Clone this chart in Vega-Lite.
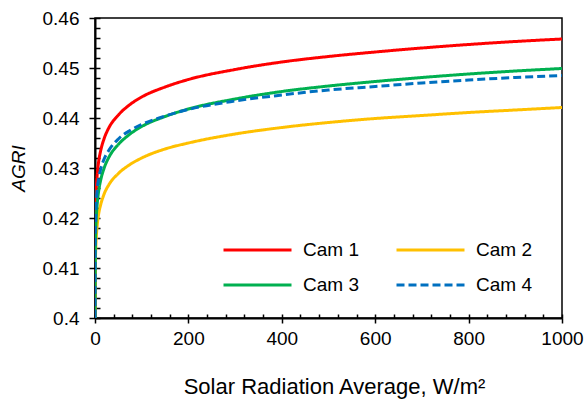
{
  "$schema": "https://vega.github.io/schema/vega-lite/v6.json",
  "width": 467,
  "height": 300,
  "autosize": "none",
  "padding": {"left": 95, "top": 18, "right": 26, "bottom": 84},
  "background": "white",
  "config": {
    "font": "Liberation Sans",
    "view": {"stroke": "black", "strokeWidth": 1.5},
    "axis": {"grid": false, "domainColor": "black", "domainWidth": 2, "tickColor": "black", "tickWidth": 1.5, "labelColor": "black", "labelFontSize": 19, "labelFont": "Liberation Sans", "titleFont": "Liberation Sans", "titleFontSize": 21, "titleFontWeight": "normal", "titleColor": "black"}
  },
  "datasets": {
    "curves": [
      {"x": 0.015, "y": 0.4, "cam": "Cam 1"},
      {"x": 0.1, "y": 0.4092, "cam": "Cam 1"},
      {"x": 0.5, "y": 0.4173, "cam": "Cam 1"},
      {"x": 1, "y": 0.4209, "cam": "Cam 1"},
      {"x": 2, "y": 0.4244, "cam": "Cam 1"},
      {"x": 3, "y": 0.4264, "cam": "Cam 1"},
      {"x": 5, "y": 0.429, "cam": "Cam 1"},
      {"x": 8, "y": 0.4314, "cam": "Cam 1"},
      {"x": 12, "y": 0.4334, "cam": "Cam 1"},
      {"x": 20, "y": 0.436, "cam": "Cam 1"},
      {"x": 30, "y": 0.4381, "cam": "Cam 1"},
      {"x": 50, "y": 0.4406, "cam": "Cam 1"},
      {"x": 75, "y": 0.4427, "cam": "Cam 1"},
      {"x": 100, "y": 0.4442, "cam": "Cam 1"},
      {"x": 150, "y": 0.4462, "cam": "Cam 1"},
      {"x": 200, "y": 0.4477, "cam": "Cam 1"},
      {"x": 300, "y": 0.4497, "cam": "Cam 1"},
      {"x": 400, "y": 0.4512, "cam": "Cam 1"},
      {"x": 500, "y": 0.4523, "cam": "Cam 1"},
      {"x": 600, "y": 0.4532, "cam": "Cam 1"},
      {"x": 700, "y": 0.454, "cam": "Cam 1"},
      {"x": 800, "y": 0.4547, "cam": "Cam 1"},
      {"x": 900, "y": 0.4553, "cam": "Cam 1"},
      {"x": 1000, "y": 0.4558, "cam": "Cam 1"},

      {"x": 0.07, "y": 0.4, "cam": "Cam 2"},
      {"x": 0.1, "y": 0.4016, "cam": "Cam 2"},
      {"x": 0.5, "y": 0.4087, "cam": "Cam 2"},
      {"x": 1, "y": 0.4117, "cam": "Cam 2"},
      {"x": 2, "y": 0.4148, "cam": "Cam 2"},
      {"x": 3, "y": 0.4165, "cam": "Cam 2"},
      {"x": 5, "y": 0.4188, "cam": "Cam 2"},
      {"x": 8, "y": 0.4209, "cam": "Cam 2"},
      {"x": 12, "y": 0.4226, "cam": "Cam 2"},
      {"x": 20, "y": 0.4249, "cam": "Cam 2"},
      {"x": 30, "y": 0.4267, "cam": "Cam 2"},
      {"x": 50, "y": 0.4289, "cam": "Cam 2"},
      {"x": 75, "y": 0.4307, "cam": "Cam 2"},
      {"x": 100, "y": 0.432, "cam": "Cam 2"},
      {"x": 150, "y": 0.4338, "cam": "Cam 2"},
      {"x": 200, "y": 0.435, "cam": "Cam 2"},
      {"x": 300, "y": 0.4368, "cam": "Cam 2"},
      {"x": 400, "y": 0.4381, "cam": "Cam 2"},
      {"x": 500, "y": 0.4391, "cam": "Cam 2"},
      {"x": 600, "y": 0.4399, "cam": "Cam 2"},
      {"x": 700, "y": 0.4405, "cam": "Cam 2"},
      {"x": 800, "y": 0.4411, "cam": "Cam 2"},
      {"x": 900, "y": 0.4416, "cam": "Cam 2"},
      {"x": 1000, "y": 0.4421, "cam": "Cam 2"},

      {"x": 0.05, "y": 0.4, "cam": "Cam 3"},
      {"x": 0.1, "y": 0.4033, "cam": "Cam 3"},
      {"x": 0.5, "y": 0.4114, "cam": "Cam 3"},
      {"x": 1, "y": 0.415, "cam": "Cam 3"},
      {"x": 2, "y": 0.4185, "cam": "Cam 3"},
      {"x": 3, "y": 0.4205, "cam": "Cam 3"},
      {"x": 5, "y": 0.4231, "cam": "Cam 3"},
      {"x": 8, "y": 0.4255, "cam": "Cam 3"},
      {"x": 12, "y": 0.4275, "cam": "Cam 3"},
      {"x": 20, "y": 0.4301, "cam": "Cam 3"},
      {"x": 30, "y": 0.4322, "cam": "Cam 3"},
      {"x": 50, "y": 0.4347, "cam": "Cam 3"},
      {"x": 75, "y": 0.4368, "cam": "Cam 3"},
      {"x": 100, "y": 0.4383, "cam": "Cam 3"},
      {"x": 150, "y": 0.4403, "cam": "Cam 3"},
      {"x": 200, "y": 0.4418, "cam": "Cam 3"},
      {"x": 300, "y": 0.4438, "cam": "Cam 3"},
      {"x": 400, "y": 0.4453, "cam": "Cam 3"},
      {"x": 500, "y": 0.4464, "cam": "Cam 3"},
      {"x": 600, "y": 0.4473, "cam": "Cam 3"},
      {"x": 700, "y": 0.4481, "cam": "Cam 3"},
      {"x": 800, "y": 0.4488, "cam": "Cam 3"},
      {"x": 900, "y": 0.4494, "cam": "Cam 3"},
      {"x": 1000, "y": 0.4499, "cam": "Cam 3"},

      {"x": 0.01, "y": 0.4, "cam": "Cam 4"},
      {"x": 0.02, "y": 0.4025, "cam": "Cam 4"},
      {"x": 0.1, "y": 0.4094, "cam": "Cam 4"},
      {"x": 0.5, "y": 0.4162, "cam": "Cam 4"},
      {"x": 1, "y": 0.4191, "cam": "Cam 4"},
      {"x": 2, "y": 0.4221, "cam": "Cam 4"},
      {"x": 3, "y": 0.4238, "cam": "Cam 4"},
      {"x": 5, "y": 0.426, "cam": "Cam 4"},
      {"x": 8, "y": 0.428, "cam": "Cam 4"},
      {"x": 12, "y": 0.4297, "cam": "Cam 4"},
      {"x": 20, "y": 0.4319, "cam": "Cam 4"},
      {"x": 30, "y": 0.4336, "cam": "Cam 4"},
      {"x": 50, "y": 0.4358, "cam": "Cam 4"},
      {"x": 75, "y": 0.4375, "cam": "Cam 4"},
      {"x": 100, "y": 0.4387, "cam": "Cam 4"},
      {"x": 150, "y": 0.4404, "cam": "Cam 4"},
      {"x": 200, "y": 0.4417, "cam": "Cam 4"},
      {"x": 300, "y": 0.4434, "cam": "Cam 4"},
      {"x": 400, "y": 0.4446, "cam": "Cam 4"},
      {"x": 500, "y": 0.4456, "cam": "Cam 4"},
      {"x": 600, "y": 0.4463, "cam": "Cam 4"},
      {"x": 700, "y": 0.447, "cam": "Cam 4"},
      {"x": 800, "y": 0.4476, "cam": "Cam 4"},
      {"x": 900, "y": 0.4481, "cam": "Cam 4"},
      {"x": 1000, "y": 0.4485, "cam": "Cam 4"}
    ]
  },
  "data": {"name": "curves"},
  "resolve": {"axis": {"x": "independent", "y": "independent"}},
  "layer": [
    {
      "mark": {"type": "line", "opacity": 0},
      "encoding": {
        "x": {"field": "x", "type": "quantitative", "scale": {"domain": [0, 1000], "nice": false, "zero": false},
          "axis": {"orient": "bottom", "title": null, "labels": false, "domain": false, "values": [0, 40, 80, 120, 160, 200, 240, 280, 320, 360, 400, 440, 480, 520, 560, 600, 640, 680, 720, 760, 800, 840, 880, 920, 960, 1000], "tickSize": -4, "tickWidth": 1.5}},
        "y": {"field": "y", "type": "quantitative", "scale": {"domain": [0.4, 0.46], "nice": false, "zero": false},
          "axis": {"orient": "left", "title": null, "labels": false, "domain": false, "values": [0.4, 0.402, 0.404, 0.406, 0.408, 0.41, 0.412, 0.414, 0.416, 0.418, 0.42, 0.422, 0.424, 0.426, 0.428, 0.43, 0.432, 0.434, 0.436, 0.438, 0.44, 0.442, 0.444, 0.446, 0.448, 0.45, 0.452, 0.454, 0.456, 0.458, 0.46], "tickSize": -5, "tickWidth": 1.5}}
      }
    },
    {
      "mark": {"type": "line", "strokeWidth": 3, "interpolate": "monotone", "clip": true},
      "encoding": {
        "x": {"field": "x", "type": "quantitative", "scale": {"domain": [0, 1000], "nice": false, "zero": false},
          "axis": {"orient": "bottom", "title": "Solar Radiation Average, W/m²", "titleFontSize": 22, "titleX": 239, "values": [0, 200, 400, 600, 800, 1000], "format": "d", "tickSize": 5, "labelPadding": 6, "titlePadding": 28, "labelFlush": false}},
        "y": {"field": "y", "type": "quantitative", "scale": {"domain": [0.4, 0.46], "nice": false, "zero": false},
          "axis": {"orient": "left", "title": "AGRI", "titleFontStyle": "italic", "titleFontSize": 19, "values": [0.4, 0.41, 0.42, 0.43, 0.44, 0.45, 0.46], "format": "~g", "tickSize": 6, "labelPadding": 10, "titlePadding": 14, "labelFlush": false}},
        "color": {"field": "cam", "type": "nominal", "sort": ["Cam 1", "Cam 2", "Cam 3", "Cam 4"],
          "scale": {"domain": ["Cam 1", "Cam 2", "Cam 3", "Cam 4"], "range": ["#FF0000", "#FFC000", "#00B050", "#0070C0"]},
          "legend": {"title": null, "orient": "none", "direction": "horizontal", "legendX": 152.5, "legendY": 222, "columns": 2, "columnPadding": 31, "rowPadding": 15, "symbolType": "M-4,0H4", "symbolSize": 289, "symbolStrokeWidth": 3, "symbolFillColor": "transparent", "labelFontSize": 19, "labelFont": "Liberation Sans", "labelColor": "black", "labelOffset": 35.5, "padding": 0}},
        "strokeDash": {"field": "cam", "type": "nominal", "sort": ["Cam 1", "Cam 2", "Cam 3", "Cam 4"],
          "scale": {"domain": ["Cam 1", "Cam 2", "Cam 3", "Cam 4"], "range": [[1, 0], [1, 0], [1, 0], [8, 4]]},
          "legend": {"title": null, "orient": "none", "direction": "horizontal", "legendX": 152.5, "legendY": 222, "columns": 2, "columnPadding": 31, "rowPadding": 15, "symbolType": "M-4,0H4", "symbolSize": 289, "symbolStrokeWidth": 3, "symbolFillColor": "transparent", "labelFontSize": 19, "labelFont": "Liberation Sans", "labelColor": "black", "labelOffset": 35.5, "padding": 0}}
      }
    }
  ]
}
